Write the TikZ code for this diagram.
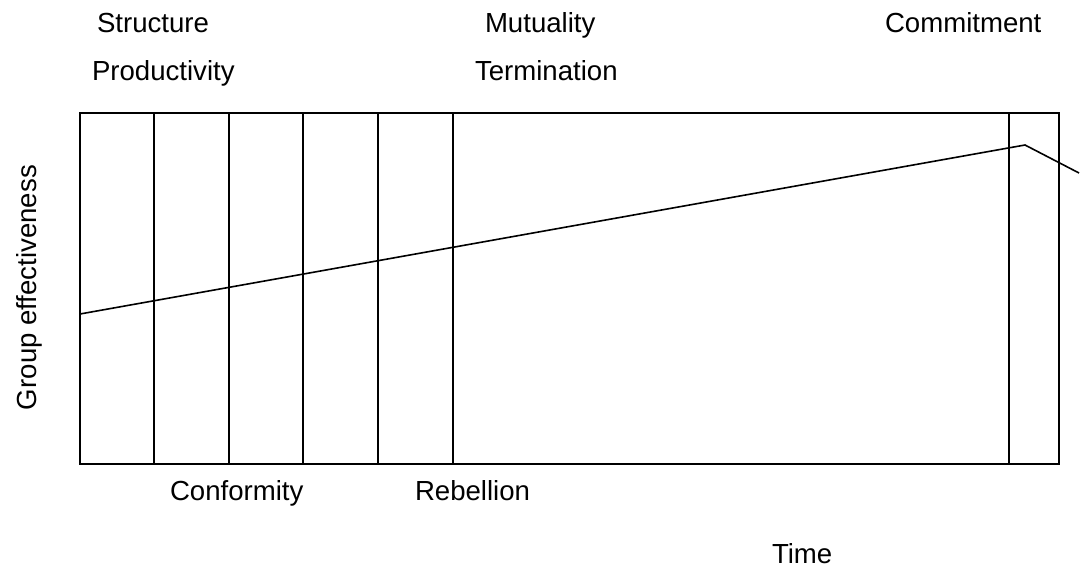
\documentclass[tikz,border=0pt]{standalone}
\usepackage{fontspec}
\setmainfont{Liberation Sans}
\begin{document}
\begin{tikzpicture}[x=1pt,y=-1pt,
  lbl/.style={inner sep=0pt, outer sep=0pt, anchor=base west, font=\fontsize{27.6}{32}\selectfont},
  frame/.style={line width=2pt},
  trend/.style={line width=1.6pt, line join=miter}]
\useasboundingbox (0,0) rectangle (1080,570);
% frame
\coordinate (tl) at (80,113);
\coordinate (br) at (1059,464);
\draw[frame] (tl) rectangle (br);
% phase dividers
\foreach \xx/\nm in {154/a,229/b,303/c,378/d,453/e,1009/f}{
  \coordinate (\nm top) at (\xx,113);
  \coordinate (\nm bot) at (\xx,464);
  \draw[frame] (\nm top) -- (\nm bot);
}
% trend line
\coordinate (start) at (80,314);
\coordinate (peak) at (1025,145);
\coordinate (finish) at (1079,173);
\draw[trend] (start) -- (peak) -- (finish);
% labels
\node[lbl] (structure) at (97,32) {Structure};
\node[lbl] (mutuality) at (485,32) {Mutuality};
\node[lbl] (commitment) at (885,32) {Commitment};
\node[lbl] (productivity) at (92,80) {Productivity};
\node[lbl] (termination) at (475,80) {Termination};
\node[lbl] (conformity) at (170,500) {Conformity};
\node[lbl] (rebellion) at (415,500) {Rebellion};
\node[lbl] (time) at (772,563) {Time};
\node[lbl, rotate=90] (geff) at (36,410) {Group effectiveness};
\end{tikzpicture}
\end{document}
